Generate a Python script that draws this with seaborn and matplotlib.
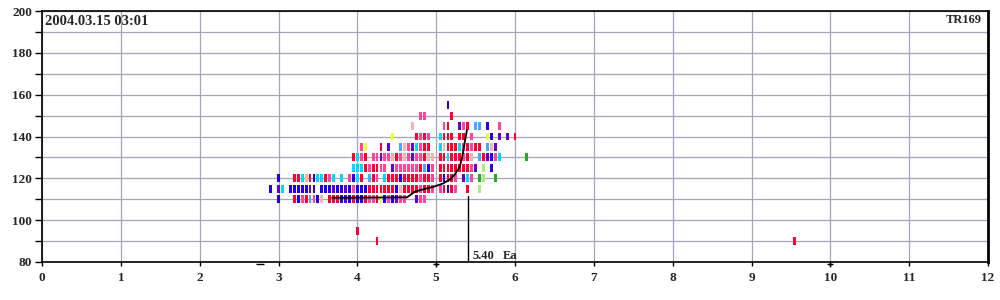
import numpy as np
import pandas as pd
import matplotlib
matplotlib.use("Agg")
import matplotlib.pyplot as plt
import seaborn as sns

# ---------------- data ----------------
row110 = [(3.00,'B'),(3.20,'R'),(3.25,'B'),(3.30,'K'),(3.35,'R'),(3.40,'L'),(3.45,'K'),(3.50,'B'),
          (3.55,'S'),(3.65,'R'),(3.70,'R'),(3.75,'R'),(3.80,'B'),(3.85,'P'),(3.90,'B'),(3.95,'R'),
          (4.00,'B'),(4.05,'B'),(4.10,'R'),(4.15,'K'),(4.20,'K'),(4.25,'R'),(4.30,'Y'),(4.35,'B'),
          (4.40,'K'),(4.45,'B'),(4.50,'P'),(4.55,'K'),(4.60,'K'),(4.75,'P'),(4.80,'K'),(4.85,'K')]
row115 = [(2.90,'B'),(3.00,'P'),(3.05,'C'),(3.15,'B'),(3.20,'B'),(3.25,'B'),(3.30,'B'),(3.35,'B'),
          (3.40,'P'),(3.45,'B'),(3.55,'B'),(3.60,'B'),(3.65,'B'),(3.70,'P'),(3.75,'B'),(3.80,'B'),
          (3.85,'P'),(3.90,'B'),(3.95,'K'),(4.00,'B'),(4.05,'B'),(4.10,'B'),(4.15,'R'),(4.20,'R'),
          (4.25,'R'),(4.30,'R'),(4.35,'R'),(4.40,'R'),(4.45,'R'),(4.50,'B'),(4.55,'S'),(4.60,'R'),
          (4.65,'R'),(4.70,'R'),(4.75,'R'),(4.80,'K'),(4.85,'R'),(4.90,'R'),(4.95,'K'),(5.05,'K'),
          (5.10,'R'),(5.15,'B'),(5.20,'R'),(5.25,'K'),(5.40,'R'),(5.55,'g')]
row120 = [(3.00,'B'),(3.20,'R'),(3.25,'R'),(3.30,'C'),(3.35,'S'),(3.40,'R'),(3.45,'B'),(3.50,'C'),
          (3.55,'C'),(3.60,'R'),(3.65,'K'),(3.70,'C'),(3.80,'C'),(3.90,'K'),(3.95,'B'),(4.00,'C'),
          (4.05,'R'),(4.15,'L'),(4.20,'R'),(4.25,'K'),(4.35,'C'),(4.40,'R'),(4.45,'R'),(4.50,'R'),
          (4.55,'B'),(4.60,'R'),(4.65,'R'),(4.70,'R'),(4.75,'R'),(4.80,'K'),(4.85,'R'),(4.90,'R'),
          (4.95,'K'),(5.05,'R'),(5.10,'B'),(5.15,'R'),(5.20,'R'),(5.25,'K'),(5.35,'P'),(5.40,'C'),
          (5.45,'K'),(5.55,'G'),(5.60,'g'),(5.75,'G')]
row125 = [(3.95,'C'),(4.00,'C'),(4.05,'C'),(4.10,'R'),(4.15,'K'),(4.20,'R'),(4.25,'R'),(4.30,'K'),
          (4.35,'K'),(4.45,'P'),(4.50,'K'),(4.55,'K'),(4.60,'K'),(4.65,'K'),(4.70,'K'),(4.75,'K'),
          (4.80,'R'),(4.85,'L'),(4.90,'B'),(4.95,'K'),(5.05,'R'),(5.10,'R'),(5.15,'R'),(5.20,'R'),
          (5.25,'R'),(5.30,'R'),(5.35,'R'),(5.40,'R'),(5.45,'K'),(5.50,'P'),(5.60,'g'),(5.70,'B')]
row130 = [(3.95,'R'),(4.00,'C'),(4.05,'K'),(4.10,'R'),(4.20,'K'),(4.25,'K'),(4.30,'P'),(4.35,'K'),
          (4.40,'K'),(4.45,'S'),(4.50,'R'),(4.55,'K'),(4.60,'S'),(4.65,'K'),(4.70,'P'),(4.75,'K'),
          (4.80,'K'),(4.85,'R'),(4.90,'S'),(4.95,'S'),(5.05,'R'),(5.10,'R'),(5.15,'C'),(5.20,'R'),
          (5.25,'R'),(5.30,'R'),(5.35,'K'),(5.40,'R'),(5.45,'S'),(5.55,'L'),(5.60,'R'),(5.65,'P'),
          (5.70,'B'),(5.75,'K'),(5.80,'C'),(6.15,'G')]
row135 = [(4.05,'K'),(4.10,'Y'),(4.30,'R'),(4.40,'P'),(4.55,'L'),(4.60,'S'),(4.65,'K'),(4.70,'P'),
          (4.75,'C'),(4.80,'K'),(4.85,'R'),(4.90,'R'),(5.05,'C'),(5.10,'S'),(5.15,'R'),(5.20,'R'),
          (5.25,'R'),(5.30,'C'),(5.35,'K'),(5.40,'R'),(5.45,'K'),(5.50,'R'),(5.55,'R'),(5.65,'L'),
          (5.70,'S'),(5.75,'P')]
row140 = [(4.45,'Y'),(4.75,'R'),(4.80,'K'),(4.85,'R'),(4.90,'K'),(5.05,'C'),(5.10,'R'),(5.15,'R'),
          (5.20,'R'),(5.30,'R'),(5.35,'R'),(5.45,'K'),(5.65,'Y'),(5.70,'B'),(5.80,'P'),(5.90,'P'),
          (6.00,'R')]
row145 = [(4.70,'S'),(5.10,'K'),(5.15,'R'),(5.30,'P'),(5.35,'K'),(5.40,'R'),(5.50,'L'),(5.55,'L'),
          (5.65,'B'),(5.80,'K')]
row150 = [(4.80,'K'),(4.85,'K'),(5.20,'R')]
row155 = [(5.15,'B')]
outliers = [(4.00, 95, 'R'), (4.25, 90, 'R'), (9.55, 90, 'R')]

trace_freq = [3.68, 4.63, 4.73, 4.84, 4.97, 5.09, 5.18, 5.24, 5.30, 5.33, 5.36, 5.39]
trace_height = [110.7, 110.9, 113.6, 114.8, 116.0, 117.6, 119.6, 122.0, 125.6, 130.3, 136.7, 143.1]

ea_freq = 5.40
ea_top = 111.5
plus_marks = [5.0, 10.0]
minus_marks = [2.77]

title_left = "2004.03.15 03:01"
title_right = "TR169"

palette = {'B': '#2200ee', 'P': '#6600cc', 'C': '#00d8ff', 'L': '#44a8ff',
           'R': '#ff0033', 'K': '#ff4499', 'S': '#f4b4ae', 'Y': '#eeff33',
           'G': '#22aa22', 'g': '#aaee77'}

# ---------------- build table ----------------
recs = []
for h, row in [(110, row110), (115, row115), (120, row120), (125, row125), (130, row130),
               (135, row135), (140, row140), (145, row145), (150, row150), (155, row155)]:
    for f, c in row:
        recs.append((f, h, c))
for f, h, c in outliers:
    recs.append((f, h, c))
df = pd.DataFrame(recs, columns=['freq', 'height', 'code'])

# ---------------- plot ----------------
sns.set_style("ticks")
plt.rcParams['font.family'] = ['Liberation Serif', 'DejaVu Serif']
plt.rcParams['font.weight'] = 'bold'

fig = plt.figure(figsize=(10, 3), dpi=100)
ax = fig.add_axes([0.042, 0.1267, 0.946, 0.8366])

bar_marker = [(-0.18, -0.5), (0.18, -0.5), (0.18, 0.5), (-0.18, 0.5)]
sns.scatterplot(data=df, x='freq', y='height', hue='code', palette=palette,
                marker=bar_marker, s=33, linewidth=0, legend=False, ax=ax, zorder=3)

sns.lineplot(x=trace_freq, y=trace_height, color='black', sort=False, estimator=None,
             linewidth=1.3, ax=ax, zorder=4)

ax.plot([ea_freq, ea_freq], [80, ea_top], color='black', linewidth=1.0, zorder=4)
ax.text(ea_freq + 0.06, 81.2, "5.40", fontsize=9, fontweight='bold', ha='left', va='baseline')
ax.text(ea_freq + 0.44, 81.2, "Ea", fontsize=9, fontweight='bold', ha='left', va='baseline')

ax.plot(plus_marks, [78.8] * len(plus_marks), linestyle='none', marker='+', color='black',
        markersize=5, markeredgewidth=1.0, clip_on=False, zorder=5)
ax.plot(minus_marks, [78.8] * len(minus_marks), linestyle='none', marker='_', color='black',
        markersize=6, markeredgewidth=1.0, clip_on=False, zorder=5)

ax.set_xlim(0, 12)
ax.set_ylim(80, 200)
ax.set_xticks(np.arange(0, 13, 1))
ax.set_yticks(np.arange(80, 201, 20))
ax.set_yticks(np.arange(90, 200, 20), minor=True)
ax.grid(True, which='both', color='#a4a4ba', linewidth=0.9)
ax.set_axisbelow(True)
ax.tick_params(axis='y', which='both', direction='out', length=5, width=1, color='black',
               labelsize=9.5, pad=2)
ax.tick_params(axis='x', which='both', direction='out', length=3, width=1, color='black',
               labelsize=9.5, pad=4)
for lab in ax.get_xticklabels() + ax.get_yticklabels():
    lab.set_fontweight('bold')
ax.set_xlabel('')
ax.set_ylabel('')
for side in ['left', 'bottom', 'top']:
    ax.spines[side].set_color('black')
    ax.spines[side].set_linewidth(1.2)
ax.spines['right'].set_color('black')
ax.spines['right'].set_linewidth(2.0)

ax.text(0.003, 0.984, title_left, transform=ax.transAxes, ha='left', va='top',
        fontsize=10.5, fontweight='bold')
ax.text(0.9935, 0.988, title_right, transform=ax.transAxes, ha='right', va='top',
        fontsize=9, fontweight='bold')

fig.savefig("out.png", dpi=100)
